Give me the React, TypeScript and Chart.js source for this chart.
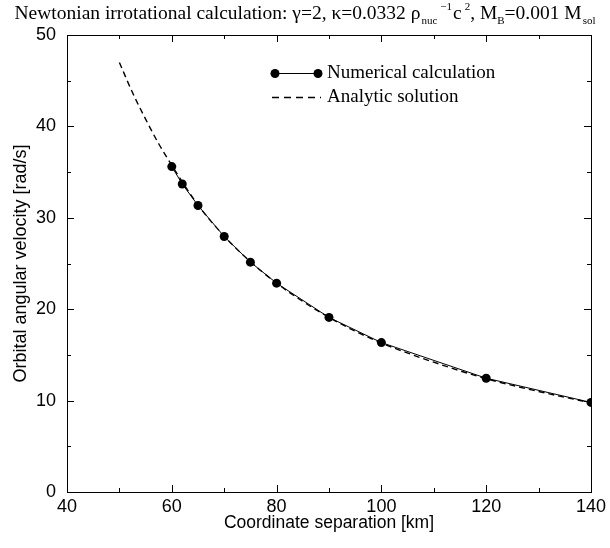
import React, { useEffect, useRef } from "react";
import { Chart, registerables } from "chart.js";
Chart.register(...registerables);

// Numerical calculation (points)
const numericalX = [60, 62, 65, 70, 75, 80, 90, 100, 120, 140];
const numericalY = [35.6, 33.7, 31.35, 27.95, 25.15, 22.85, 19.1, 16.35, 12.45, 9.8];

// Analytic solution (dashed curve)
const analyticX = [50, 52.5, 55, 57.5, 60, 65, 70, 75, 80, 85, 90, 95, 100, 110, 120, 130, 140];
const analyticY = [47.0, 43.7, 40.8, 38.1, 35.75, 31.4, 28.0, 25.2, 22.85, 20.85, 19.1, 17.6, 16.3, 14.2, 12.4, 11.0, 9.75];

const xTickLabels = [40, 60, 80, 100, 120, 140];
const yTickLabels = [0, 10, 20, 30, 40, 50];

const SERIF = "'Liberation Serif', 'Times New Roman', serif";
const SANS = "'Liberation Sans', Arial, Helvetica, sans-serif";

const titleSegments = [
  { t: "Newtonian irrotational calculation: \u03b3=2, \u03ba=0.0332 \u03c1", s: 19.5, dy: 0, gap: 0 },
  { t: "nuc", s: 11, dy: 5, gap: 1 },
  { t: "\u22121", s: 11, dy: -9, gap: 3 },
  { t: "c", s: 19.5, dy: 0, gap: 1 },
  { t: "2", s: 11, dy: -9, gap: 3 },
  { t: ", M", s: 19.5, dy: 0, gap: 0 },
  { t: "B", s: 11, dy: 5, gap: 0 },
  { t: "=0.001 M", s: 19.5, dy: 0, gap: 0 },
  { t: "sol", s: 11, dy: 5, gap: 1 },
];

const framePlugin = {
  id: "frame",
  afterDraw(chart: any) {
    const ctx = chart.ctx as CanvasRenderingContext2D;
    const { left, right, top, bottom } = chart.chartArea;
    const xs = chart.scales.x;
    const ys = chart.scales.y;
    ctx.save();
    ctx.strokeStyle = "#000";
    ctx.lineWidth = 1;
    ctx.setLineDash([]);
    ctx.strokeRect(Math.round(left) + 0.5, Math.round(top) + 0.5, Math.round(right - left), Math.round(bottom - top));
    ctx.beginPath();
    for (let v = 40; v <= 140; v += 10) {
      const px = Math.round(xs.getPixelForValue(v)) + 0.5;
      const len = v % 20 === 0 ? 7 : 4;
      ctx.moveTo(px, bottom);
      ctx.lineTo(px, bottom - len);
      ctx.moveTo(px, top);
      ctx.lineTo(px, top + len);
    }
    for (let v = 0; v <= 50; v += 5) {
      const py = Math.round(ys.getPixelForValue(v)) + 0.5;
      const len = v % 10 === 0 ? 7 : 4;
      ctx.moveTo(left, py);
      ctx.lineTo(left + len, py);
      ctx.moveTo(right, py);
      ctx.lineTo(right - len, py);
    }
    ctx.stroke();

    // title
    ctx.fillStyle = "#000";
    ctx.textBaseline = "alphabetic";
    ctx.textAlign = "left";
    let total = 0;
    for (const seg of titleSegments) {
      ctx.font = `${seg.s}px ${SERIF}`;
      total += seg.gap + ctx.measureText(seg.t).width;
    }
    let x = 305 - total / 2;
    const baseY = 19;
    for (const seg of titleSegments) {
      ctx.font = `${seg.s}px ${SERIF}`;
      x += seg.gap;
      ctx.fillText(seg.t, x, baseY + seg.dy);
      x += ctx.measureText(seg.t).width;
    }

    // legend
    const lx1 = 275, lx2 = 318, ly1 = 73, ly2 = 97, tx = 327;
    ctx.beginPath();
    ctx.moveTo(lx1, ly1 + 0.5);
    ctx.lineTo(lx2, ly1 + 0.5);
    ctx.stroke();
    for (const cx of [lx1, lx2]) {
      ctx.beginPath();
      ctx.arc(cx, ly1 + 0.5, 4.5, 0, Math.PI * 2);
      ctx.fill();
    }
    ctx.save();
    ctx.setLineDash([7, 5]);
    ctx.lineWidth = 1.3;
    ctx.beginPath();
    ctx.moveTo(lx1 - 3, ly2 + 0.5);
    ctx.lineTo(lx2 + 3, ly2 + 0.5);
    ctx.stroke();
    ctx.restore();
    ctx.font = `19px ${SERIF}`;
    ctx.textBaseline = "middle";
    ctx.fillText("Numerical calculation", tx, ly1);
    ctx.fillText("Analytic solution", tx, ly2);
    ctx.restore();
  },
};

export default function App() {
  const ref = useRef<HTMLCanvasElement>(null);
  useEffect(() => {
    if (!ref.current) return;
    const chart = new Chart(ref.current, {
      type: "scatter",
      data: {
        datasets: [
          {
            label: "Analytic solution",
            data: analyticX.map((x, i) => ({ x, y: analyticY[i] })),
            showLine: true,
            borderColor: "#000",
            borderWidth: 1.4,
            borderDash: [6, 4],
            pointRadius: 0,
            cubicInterpolationMode: "monotone",
          },
          {
            label: "Numerical calculation",
            data: numericalX.map((x, i) => ({ x, y: numericalY[i] })),
            showLine: true,
            borderColor: "#000",
            borderWidth: 1,
            pointRadius: 4.5,
            pointBackgroundColor: "#000",
            pointBorderColor: "#000",
            pointBorderWidth: 0,
          },
        ],
      },
      options: {
        animation: false,
        responsive: false,
        devicePixelRatio: 1,
        events: [],
        layout: { padding: { top: 35, right: 17, left: 0, bottom: 0 } },
        plugins: {
          legend: { display: false },
          title: { display: false },
          tooltip: { enabled: false },
        },
        scales: {
          x: {
            type: "linear",
            min: 40,
            max: 140,
            grid: { display: false, drawTicks: false },
            border: { display: false },
            ticks: {
              stepSize: 10,
              padding: 4,
              color: "#000",
              font: { family: SANS, size: 18 },
              maxRotation: 0,
              autoSkip: false,
              callback: (v: any) => (xTickLabels.includes(Number(v)) ? String(v) : ""),
            },
            title: {
              display: true,
              text: "Coordinate separation [km]",
              color: "#000",
              font: { family: SANS, size: 17.5 },
              padding: { top: 0, bottom: 14 },
            },
            afterFit: (s: any) => {
              s.height = 56;
            },
          },
          y: {
            type: "linear",
            min: 0,
            max: 50,
            grid: { display: false, drawTicks: false },
            border: { display: false },
            ticks: {
              stepSize: 5,
              padding: 11,
              color: "#000",
              font: { family: SANS, size: 18 },
              autoSkip: false,
              callback: (v: any) => (yTickLabels.includes(Number(v)) ? String(v) : ""),
            },
            title: {
              display: true,
              text: "Orbital angular velocity [rad/s]",
              color: "#000",
              font: { family: SANS, size: 18 },
              padding: { top: 10, bottom: 0 },
            },
            afterFit: (s: any) => {
              s.width = 67;
            },
          },
        },
      },
      plugins: [framePlugin],
    });
    return () => chart.destroy();
  }, []);
  return (
    <div style={{ position: "fixed", left: 0, top: 0, width: 610, height: 548, background: "#fff" }}>
      <canvas ref={ref} width={610} height={548} style={{ display: "block" }} />
    </div>
  );
}
